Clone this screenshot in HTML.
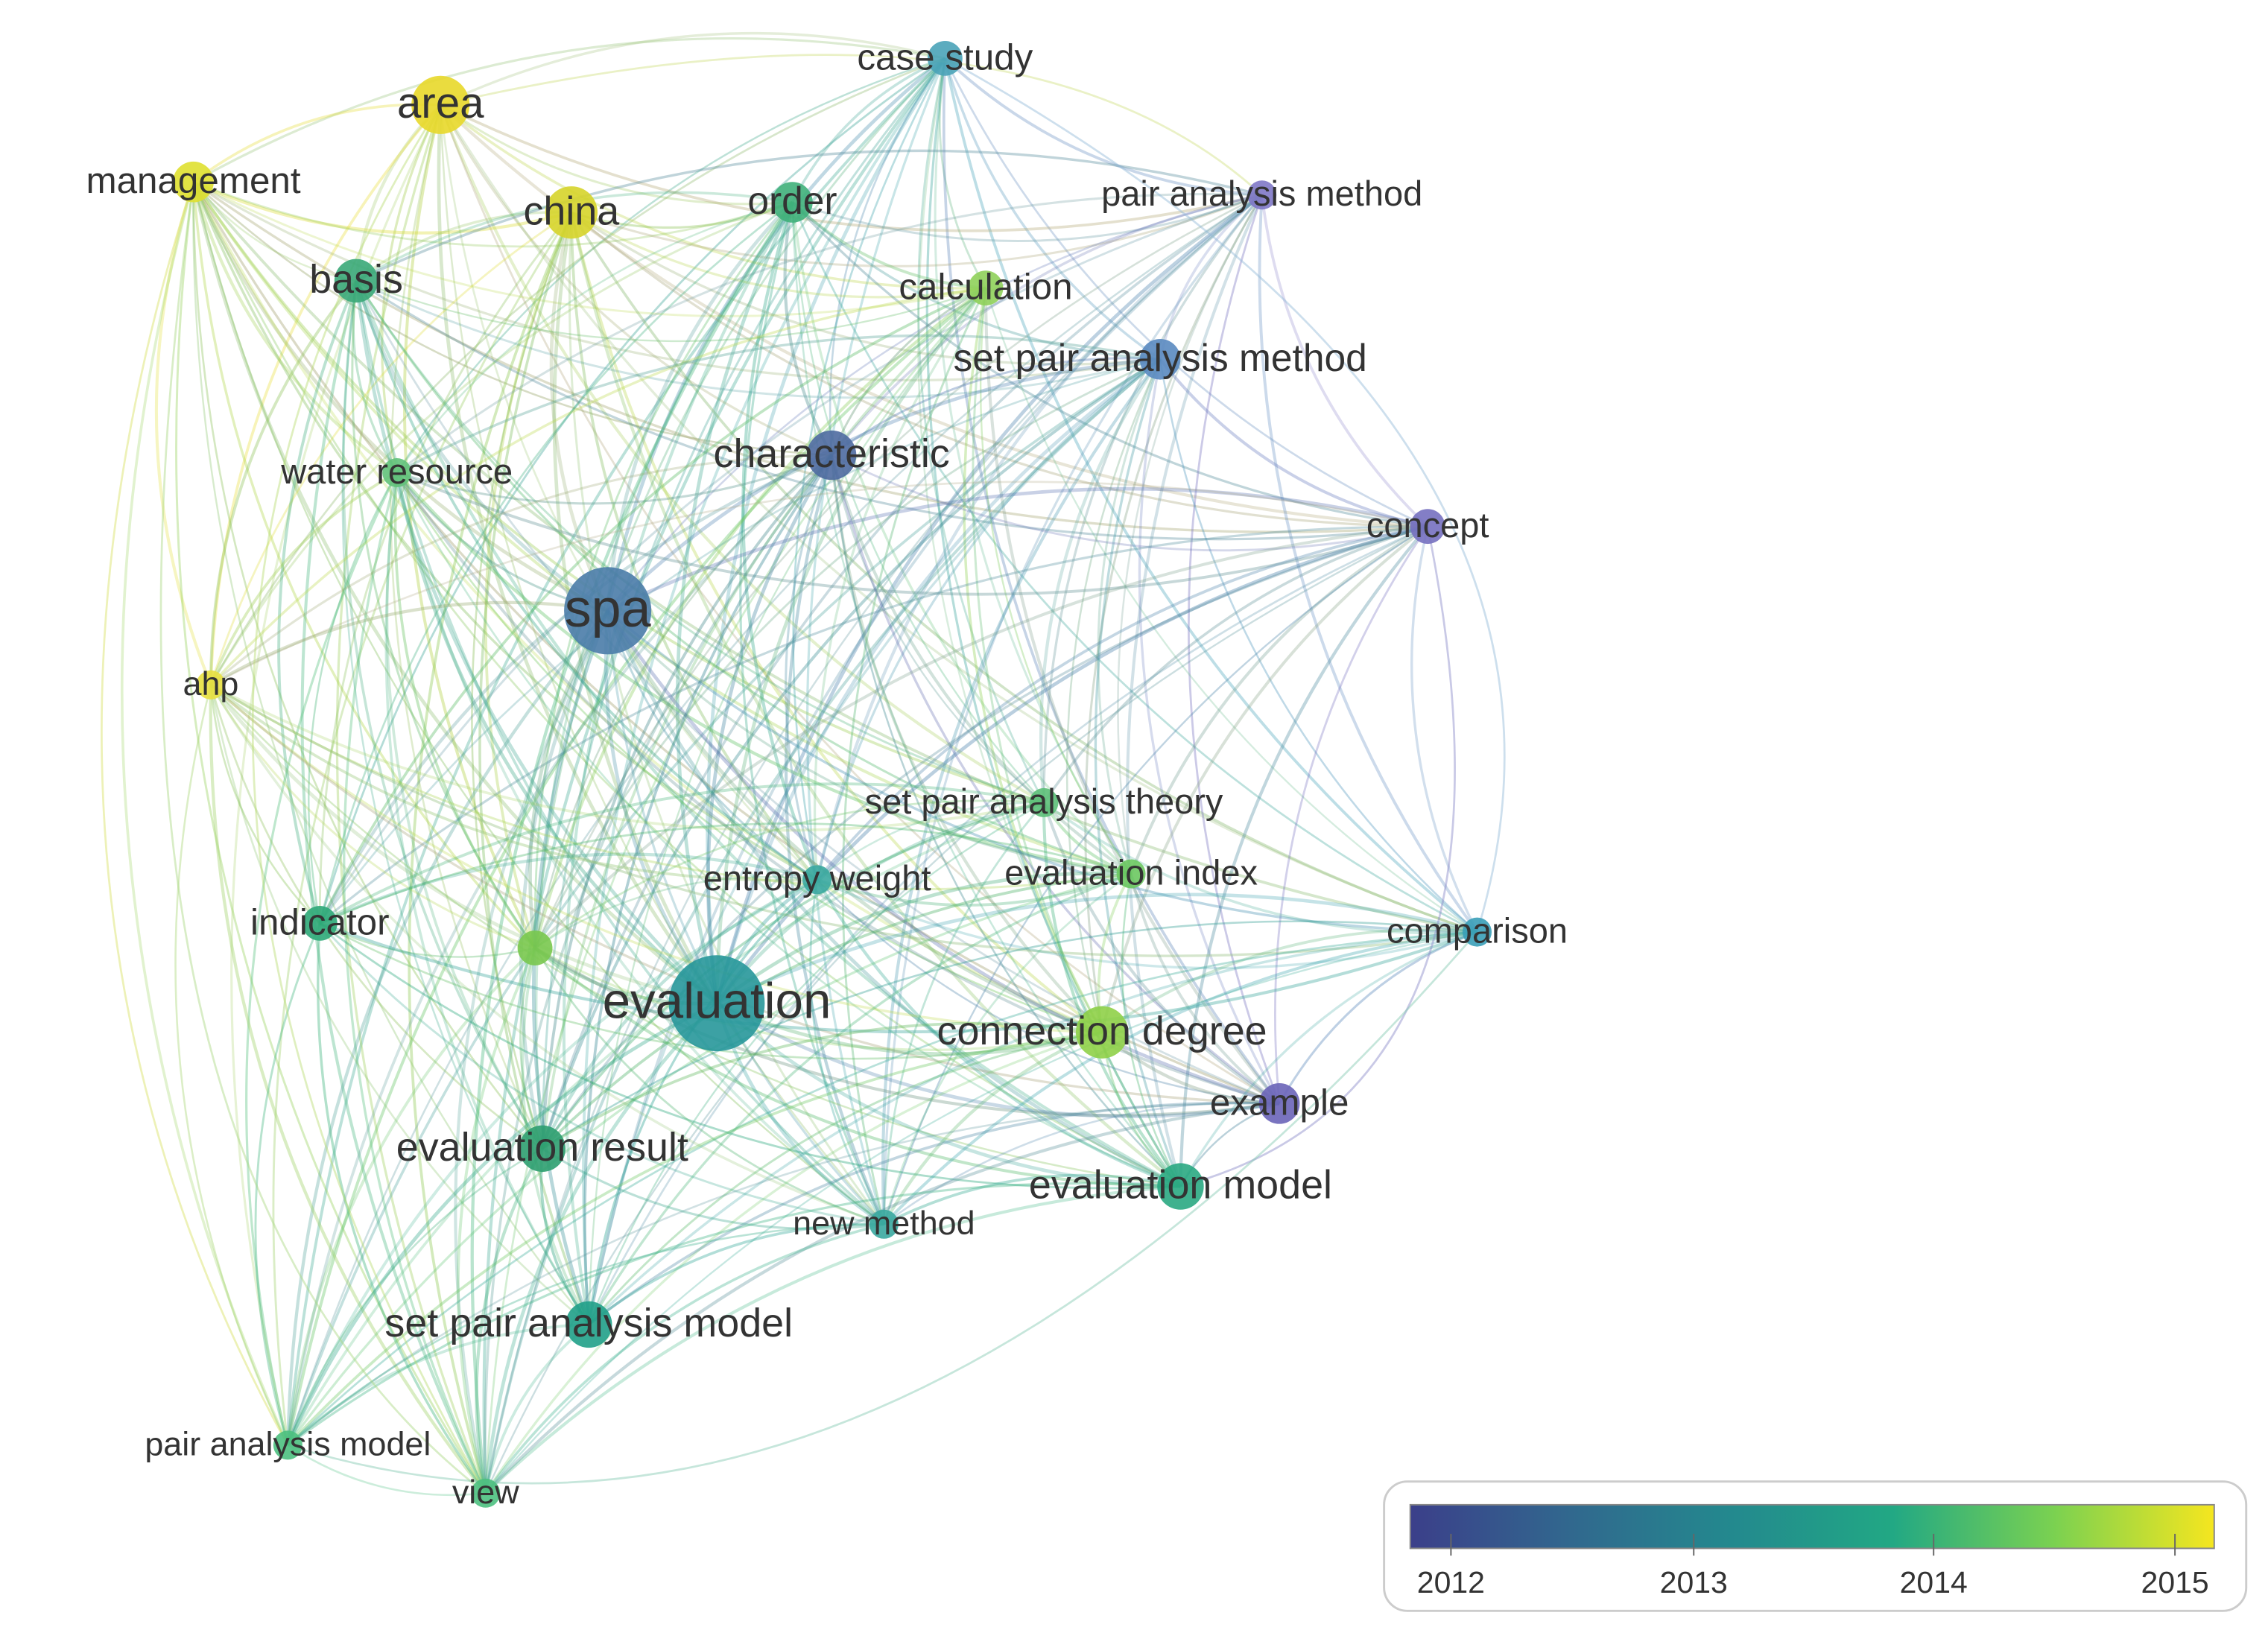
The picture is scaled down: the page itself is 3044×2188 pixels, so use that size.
<!DOCTYPE html>
<html><head><meta charset="utf-8">
<style>
html,body{margin:0;padding:0;background:#fff;}
svg{display:block;}
text{font-family:"Liberation Sans",sans-serif;fill:#333;text-anchor:middle;dominant-baseline:middle;}
</style></head>
<body>
<svg id="s" width="3044" height="2188" viewBox="0 0 1560 1121" xmlns="http://www.w3.org/2000/svg">
<defs>
<linearGradient id="vir" x1="0" x2="1" y1="0" y2="0">
<stop offset="0" stop-color="#3b3f8a"/>
<stop offset="0.2" stop-color="#31688e"/>
<stop offset="0.4" stop-color="#23898e"/>
<stop offset="0.6" stop-color="#22a884"/>
<stop offset="0.8" stop-color="#7ad151"/>
<stop offset="1" stop-color="#f5e61f"/>
</linearGradient>
</defs>
<g id="edges"></g>
<g id="nodes"></g>
<g id="labels"></g>
<g>
<rect x="952" y="1019" width="593" height="89" rx="16" fill="#fff" stroke="#ccc" stroke-width="1.5"/>
<rect x="970" y="1035" width="553" height="30" fill="url(#vir)" stroke="#888" stroke-width="1"/>
<line x1="998" y1="1055" x2="998" y2="1070" stroke="#666"/>
<line x1="1165" y1="1055" x2="1165" y2="1070" stroke="#666"/>
<line x1="1330" y1="1055" x2="1330" y2="1070" stroke="#666"/>
<line x1="1496" y1="1055" x2="1496" y2="1070" stroke="#666"/>
<text x="998" y="1090" font-size="21" fill="#444">2012</text>
<text x="1165" y="1090" font-size="21" fill="#444">2013</text>
<text x="1330" y="1090" font-size="21" fill="#444">2014</text>
<text x="1496" y="1090" font-size="21" fill="#444">2015</text>
</g>
</svg>
<script>
var N=[
["case study",650,40,12,"#4aa3b8",22],
["area",303,72,20,"#e8d82a",26],
["management",133,125,14,"#dfe030",22],
["china",393,146,18,"#d6d42a",24],
["order",545,139,14,"#3fb07a",23],
["pair analysis method",868,134,10,"#8078c6",21],
["basis",245,193,15,"#3aa878",24],
["calculation",678,198,12,"#8fd05a",22],
["set pair analysis method",798,247,14,"#5a8ac0",23],
["water resource",273,325,10,"#62c27a",21],
["characteristic",572,313,17,"#4e6aa0",24],
["concept",982,362,12,"#7670c0",21],
["spa",418,420,30,"#4a7ca8",32],
["ahp",145,471,10,"#e8e040",20],
["set pair analysis theory",718,552,10,"#5cbf78",21],
["entropy weight",562,605,10,"#3aa8a0",21],
["evaluation index",778,601,10,"#6cc860",21],
["indicator",220,635,12,"#2ea878",22],
["",368,652,12,"#79c84e",0],
["comparison",1016,641,10,"#3a9eb8",21],
["evaluation",493,690,33,"#27979a",30],
["connection degree",758,710,18,"#8fd048",24],
["example",880,759,14,"#6a64b8",22],
["evaluation result",373,790,16,"#2e9f70",24],
["evaluation model",812,816,16,"#2aa882",24],
["new method",608,842,10,"#3aa8a0",20],
["set pair analysis model",405,911,16,"#20a088",24],
["pair analysis model",198,994,10,"#4cc080",20],
["view",334,1027,10,"#4cc080",20]
];
var ns="http://www.w3.org/2000/svg";
var E=document.getElementById("edges"),G=document.getElementById("nodes"),L=document.getElementById("labels");
function hx(c){return [parseInt(c.substr(1,2),16),parseInt(c.substr(3,2),16),parseInt(c.substr(5,2),16)];}
function mix(a,b){var x=hx(a),y=hx(b);return "rgb("+((x[0]+y[0])>>1)+","+((x[1]+y[1])>>1)+","+((x[2]+y[2])>>1)+")";}
var seed=7;function rnd(){seed=(seed*9301+49297)%233280;return seed/233280;}
for(var i=0;i<N.length;i++)for(var j=i+1;j<N.length;j++){
  if(rnd()<0.12)continue;
  var a=N[i],b=N[j];
  var dx=b[1]-a[1],dy=b[2]-a[2];
  var k=0.18;
  var cx=(a[1]+b[1])/2-dy*k,cy=(a[2]+b[2])/2+dx*k;
  var p=document.createElementNS(ns,"path");
  p.setAttribute("d","M"+a[1]+","+a[2]+" Q"+cx+","+cy+" "+b[1]+","+b[2]);
  p.setAttribute("fill","none");
  p.setAttribute("stroke",mix(a[4],b[4]));
  var w=(a[3]+b[3])>40?2.4:1.2+rnd()*1.0;
  p.setAttribute("stroke-width",w);
  p.setAttribute("stroke-opacity",0.25+rnd()*0.15);
  E.appendChild(p);
}
var arcs=[["M133,125 Q-20,600 198,994","#d8e060"],["M303,72 Q30,500 334,1027","#b8dc70"],["M650,40 Q1120,300 1016,641","#90b8d8"],["M303,72 Q700,-20 868,134","#d0e080"],["M133,125 Q40,800 334,1027","#a8d880"],["M982,362 Q1060,750 812,816","#8888c8"],["M198,994 Q600,1120 1016,641","#80c8b0"]];
arcs.forEach(function(a){var p=document.createElementNS(ns,"path");p.setAttribute("d",a[0]);p.setAttribute("fill","none");p.setAttribute("stroke",a[1]);p.setAttribute("stroke-width",1.4);p.setAttribute("stroke-opacity",0.45);E.appendChild(p);});
N.forEach(function(n){
  var c=document.createElementNS(ns,"circle");
  c.setAttribute("cx",n[1]);c.setAttribute("cy",n[2]);c.setAttribute("r",n[3]);
  c.setAttribute("fill",n[4]);c.setAttribute("fill-opacity",0.9);G.appendChild(c);
  if(n[0]){var t=document.createElementNS(ns,"text");t.setAttribute("x",n[1]);t.setAttribute("y",n[2]+1);
  t.setAttribute("font-size",(n[5]*1.15).toFixed(1));t.textContent=n[0];L.appendChild(t);}
});
</script>
</body></html>
